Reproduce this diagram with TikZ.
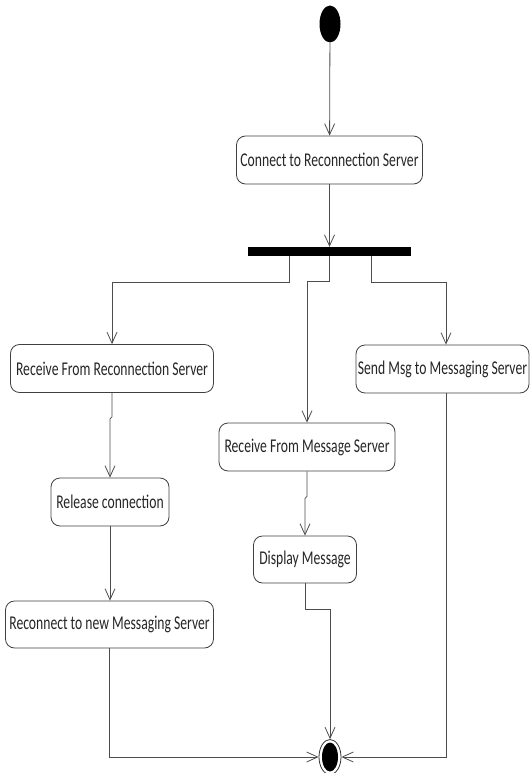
\documentclass[tikz,border=0pt]{standalone}
\usepackage{fontspec}
\setmainfont{Carlito}
\usetikzlibrary{arrows.meta,shapes.geometric,calc}
% action labels are set tall and narrow
\newcommand{\actlabel}[1]{\scalebox{0.7}[1]{#1}}
\begin{document}
\begin{tikzpicture}[x=1pt,y=-1pt]
\tikzset{
  act/.style={draw=black!75, rounded corners=9pt, fill=white, line width=0.8pt,
    text=black!85, font=\fontsize{19.5}{22}\selectfont, minimum height=48pt, inner sep=0pt},
  flow/.style={draw=black!70, line width=0.8pt, -{Straight Barb[length=11pt,width=10pt]}},
}
\useasboundingbox (0,0) rectangle (531,773);

% initial and final states
\node[ellipse, fill=black, minimum width=21pt, minimum height=37pt, inner sep=0pt] (start) at (330,24) {};
\node[ellipse, draw=black!80, fill=white, line width=0.8pt, minimum width=22pt, minimum height=35pt, inner sep=0pt] (endo) at (330,757) {};
\node[ellipse, fill=black, minimum width=16pt, minimum height=29pt, inner sep=0pt] (endi) at (330,757) {};

% fork bar
\node[fill=black, minimum width=163pt, minimum height=9pt, inner sep=0pt] (bar) at (329.5,251.5) {};

% actions
\node[act, minimum width=186pt] (b1) at (329.5,160) {\actlabel{Connect to Reconnection Server}};
\node[act, minimum width=203pt] (b2) at (112,368.5) {\actlabel{Receive From Reconnection Server}};
\node[act, minimum width=118pt] (b3) at (110,502) {\actlabel{Release connection}};
\node[act, minimum width=208pt, minimum height=47pt] (b4) at (109.5,624.5) {\actlabel{Reconnect to new Messaging Server}};
\node[act, minimum width=176pt] (b5) at (307,447) {\actlabel{Receive From Message Server}};
\node[act, minimum width=103pt, minimum height=47pt] (b6) at (305,559.5) {\actlabel{Display Message}};
\node[act, minimum width=173pt] (b7) at (442.5,369) {\actlabel{Send Msg to Messaging Server}};

% flows
\draw[flow] (start) -- (b1);
\draw[flow] (b1.south) -- (bar.north);
\draw[flow] ([xshift=-40.5pt]bar.south) -- ++(0,26) -| (b2.north);
\draw[flow] (bar.south) -- ++(0,25) -| (b5.north);
\draw[flow] ([xshift=41.5pt]bar.south) -- ++(0,26) -| ([xshift=3.5pt]b7.north);

\draw[flow] (b2.south) -- ++(0,24) -- ++(-2,2) -- (b3.north);
\draw[flow] (b3.south) -- (b3.south |- b4.north);
\draw[flow] (b4.south) |- (endo.west);

\draw[flow] (b5.south) -- ++(0,25) -- ++(-2,2) -- (b6.north);
\draw[flow] (b6.south) -- ++(0,26) -| (endo.north);

\draw[flow] ([xshift=3.5pt]b7.south) |- (endo.east);
\end{tikzpicture}
\end{document}
